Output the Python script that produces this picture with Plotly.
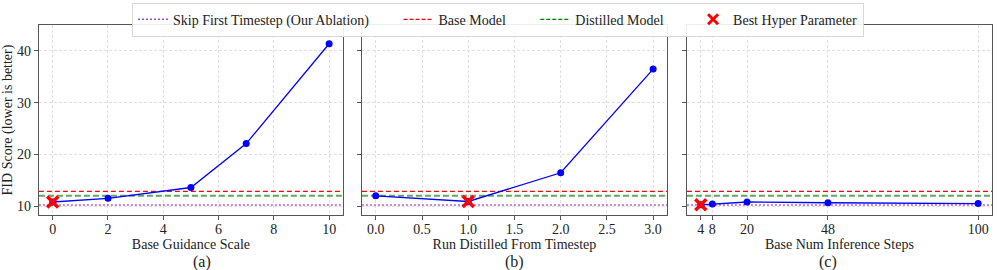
import plotly.graph_objects as go

# ---- data ----
guidance_x = [0, 2, 5, 7, 10]
guidance_fid = [10.8, 11.5, 13.6, 22.1, 41.4]
guidance_best = 0

timestep_x = [0.0, 1.0, 2.0, 3.0]
timestep_fid = [12.0, 10.9, 16.45, 36.5]
timestep_best = 1

steps_x = [4, 8, 20, 48, 100]
steps_fid = [10.25, 10.4, 10.8, 10.65, 10.5]
steps_best = 0

skip_first_fid = 10.2
base_model_fid = 12.85
distilled_model_fid = 12.0

x_titles = ["Base Guidance Scale", "Run Distilled From Timestep", "Base Num Inference Steps"]
panel_labels = ["(a)", "(b)", "(c)"]
y_title = "FID Score (lower is better)"
legend_names = ["Skip First Timestep (Our Ablation)", "Base Model", "Distilled Model", "Best Hyper Parameter"]

FONT = "Liberation Serif, Times New Roman, serif"
TXT = "#222"
FS = 14

fig = go.Figure()

panels = [
    (guidance_x, guidance_fid, guidance_best, [-0.5, 10.5], dict(tickvals=[0, 2, 4, 6, 8, 10])),
    (timestep_x, timestep_fid, timestep_best, [-0.15, 3.15],
     dict(tickvals=[0, 0.5, 1, 1.5, 2, 2.5, 3], ticktext=["0.0", "0.5", "1.0", "1.5", "2.0", "2.5", "3.0"])),
    (steps_x, steps_fid, steps_best, [-0.8, 104.8], dict(tickvals=steps_x)),
]
domains = [[0.039, 0.344], [0.363, 0.669], [0.689, 0.995]]
ydom = [0.204, 0.907]
yrange = [8.3, 45.0]

for i, (xs, ys, bi, xr, tk) in enumerate(panels):
    n = "" if i == 0 else str(i + 1)
    xa, ya = "x" + n, "y" + n
    for val, col, dash, w in [
        (skip_first_fid, "rgba(160,60,180,0.8)", "2px,2px", 1.5),
        (distilled_model_fid, "rgba(40,140,40,0.75)", "6px,3px", 2),
        (base_model_fid, "rgba(230,0,0,0.95)", "5px,3px", 1.3),
    ]:
        fig.add_trace(go.Scatter(x=[xr[0], xr[1]], y=[val, val], mode="lines",
                                 line=dict(color=col, dash=dash, width=w),
                                 xaxis=xa, yaxis=ya, showlegend=False, hoverinfo="skip"))
    fig.add_trace(go.Scatter(x=xs, y=ys, mode="lines+markers",
                             line=dict(color="blue", width=1.3),
                             marker=dict(color="blue", size=7),
                             xaxis=xa, yaxis=ya, showlegend=False))
    fig.add_trace(go.Scatter(x=[xs[bi]], y=[ys[bi]], mode="markers",
                             marker=dict(symbol="x-thin", size=11, color="red",
                                         line=dict(color="red", width=3.5)),
                             xaxis=xa, yaxis=ya, showlegend=False))
    axis_common = dict(showline=True, mirror=True, linecolor="#555", linewidth=1,
                       ticks="outside", ticklen=4, tickcolor="#555",
                       showgrid=True, gridcolor="#e0e0e0", griddash="3px,2px", gridwidth=1,
                       zeroline=False, tickfont=dict(family=FONT, size=FS, color=TXT))
    fig.layout["xaxis" + n] = dict(domain=domains[i], range=xr, anchor=ya, ticklabelstandoff=-3,
                                   title=dict(text=x_titles[i], font=dict(family=FONT, size=FS, color=TXT), standoff=0),
                                   **tk, **axis_common)
    ydict = dict(domain=ydom, range=yrange, anchor=xa, tickvals=[10, 20, 30, 40],
                 showticklabels=(i == 0), **axis_common)
    if i == 0:
        ydict["title"] = dict(text=y_title, font=dict(family=FONT, size=FS, color=TXT), standoff=3)
    fig.layout["yaxis" + n] = ydict
    fig.add_annotation(text=panel_labels[i], x=(domains[i][0] + domains[i][1]) / 2, y=8 / 270,
                       xref="paper", yref="paper", showarrow=False, yanchor="middle",
                       font=dict(family=FONT, size=16, color=TXT))

# legend-only entries
pad = "\u2003\u2002\u2005"
fig.add_trace(go.Scatter(x=[None], y=[None], mode="lines", name=legend_names[0] + pad,
                         line=dict(color="rgba(160,60,180,0.9)", dash="2px,2px", width=1.5)))
fig.add_trace(go.Scatter(x=[None], y=[None], mode="lines", name=legend_names[1] + pad,
                         line=dict(color="red", dash="4px,2px", width=1.3)))
fig.add_trace(go.Scatter(x=[None], y=[None], mode="lines", name=legend_names[2] + pad,
                         line=dict(color="green", dash="4px,2px", width=1.3)))
fig.add_trace(go.Scatter(x=[None], y=[None], mode="markers", name=legend_names[3],
                         marker=dict(symbol="x-thin", size=10, color="red", line=dict(color="red", width=3))))

fig.update_layout(
    width=997, height=270,
    margin=dict(l=0, r=0, t=0, b=0),
    paper_bgcolor="white", plot_bgcolor="white",
    font=dict(family=FONT, size=FS, color=TXT),
    legend=dict(orientation="h", x=0.4995, xanchor="center", y=0.99, yanchor="top",
                bordercolor="#d8d8d8", borderwidth=1, bgcolor="rgba(255,255,255,0.9)",
                font=dict(family=FONT, size=FS, color=TXT), itemwidth=30),
    showlegend=True,
)

fig.write_html("out.html", config={"displayModeBar": False},
               post_script="document.body.style.margin='0px';")
